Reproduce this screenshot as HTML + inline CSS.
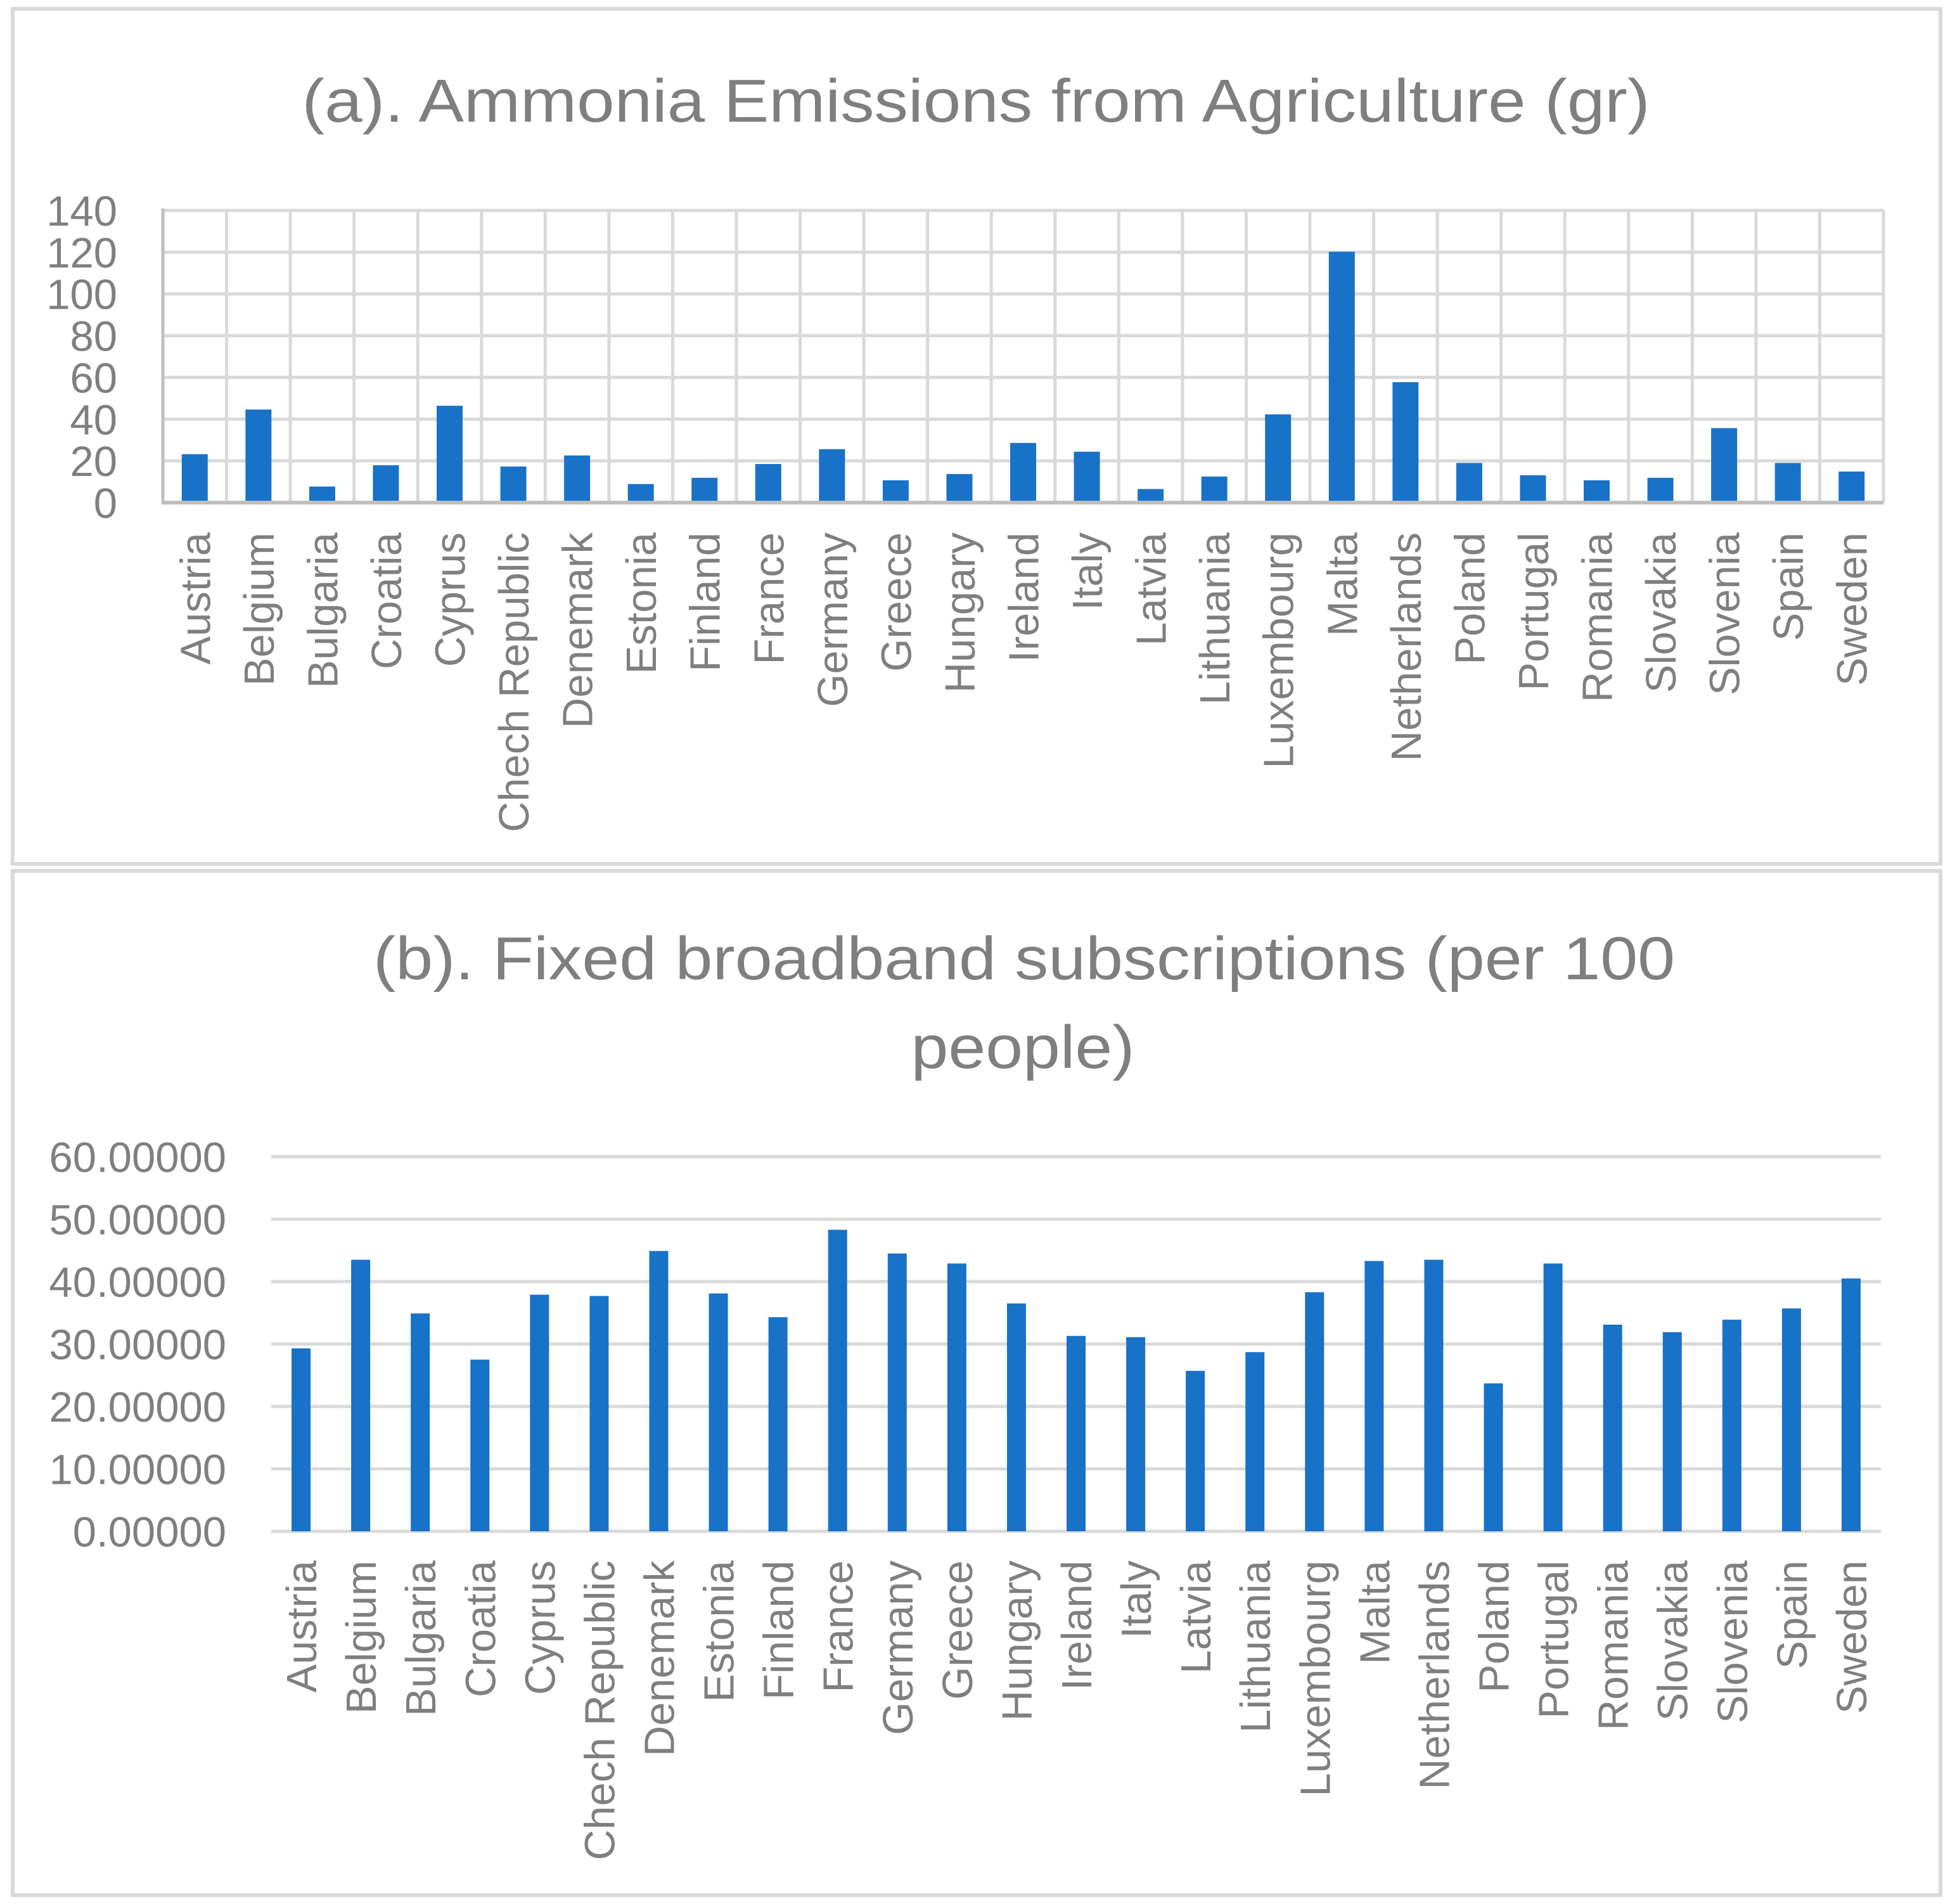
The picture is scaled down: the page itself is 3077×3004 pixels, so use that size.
<!DOCTYPE html>
<html><head><meta charset="utf-8"><style>
html,body{margin:0;padding:0;background:#fff;}
svg{display:block;font-family:"Liberation Sans",sans-serif;}
</style></head><body>
<svg id="root" width="3077" height="3004" viewBox="0 0 3077 3004" xmlns="http://www.w3.org/2000/svg">
<rect x="20" y="14" width="3042" height="1349" fill="#fff" stroke="#d9d9d9" stroke-width="6"/>
<rect x="20" y="1374" width="3042" height="1616" fill="#fff" stroke="#d9d9d9" stroke-width="6"/>
<text x="1540" y="192" text-anchor="middle" font-size="96" fill="#7f7f7f" textLength="2127" lengthAdjust="spacingAndGlyphs">(a). Ammonia Emissions from Agriculture (gr)</text>
<text x="1616" y="1545" text-anchor="middle" font-size="96" fill="#7f7f7f" textLength="2054" lengthAdjust="spacingAndGlyphs">(b). Fixed broadband subscriptions (per 100</text>
<text x="1614" y="1685" text-anchor="middle" font-size="96" fill="#7f7f7f" textLength="353" lengthAdjust="spacingAndGlyphs">people)</text>
<g id="ga"></g>
<g id="gb"></g>
</svg>
<script>
const countries = ["Austria","Belgium","Bulgaria","Croatia","Cyprus","Chech Republic","Denemark","Estonia","Finland","France","Germany","Greece","Hungary","Ireland","Italy","Latvia","Lithuania","Luxembourg","Malta","Netherlands","Poland","Portugal","Romania","Slovakia","Slovenia","Spain","Sweden"];
const ammoniaValues = [23.2,44.6,7.7,17.9,46.4,17.3,22.6,8.9,11.9,18.5,25.6,10.7,13.7,28.6,24.4,6.5,12.5,42.3,120.2,57.7,19,13.1,10.7,11.9,35.7,19,14.9];
const broadbandValues = [29.3,43.5,34.9,27.5,37.9,37.7,44.9,38.1,34.3,48.3,44.5,42.9,36.5,31.3,31.1,25.7,28.7,38.3,43.3,43.5,23.7,42.9,33.1,31.9,33.9,35.7,40.5];
const ammoniaTicks = [0,20,40,60,80,100,120,140];
const ammoniaTickLabels = ["0","20","40","60","80","100","120","140"];
const broadbandTicks = [0,10,20,30,40,50,60];
const broadbandTickLabels = ["0.00000","10.00000","20.00000","30.00000","40.00000","50.00000","60.00000"];

const NS="http://www.w3.org/2000/svg";
function mk(parent,tag,attrs,txt){const e=document.createElementNS(NS,tag);for(const k in attrs)e.setAttribute(k,attrs[k]);if(txt!==undefined)e.textContent=txt;parent.appendChild(e);return e;}

function drawChart(g, cfg){
  const n=countries.length, cw=(cfg.x1-cfg.x0)/n;
  const y=v=>cfg.yb-(v-cfg.min)/(cfg.max-cfg.min)*(cfg.yb-cfg.yt);
  const xc=i=>cfg.x0+cw*(i+0.5);
  cfg.ticks.forEach((t,i)=>{
    const gl=mk(g,'line',{x1:cfg.x0,x2:cfg.x1,y1:y(t),y2:y(t),stroke:'#d9d9d9','stroke-width':5});
    
    
    const tl=mk(g,'text',{x:cfg.labelX,y:y(t)+24,'text-anchor':'end','font-size':67,fill:'#7f7f7f'},cfg.tickLabels[i]);
    
    
  });
  if(cfg.vgrid){
    for(let i=1;i<=n;i++){
      const v=mk(g,'line',{x1:cfg.x0+cw*i,x2:cfg.x0+cw*i,y1:cfg.yt,y2:cfg.yb,stroke:'#d9d9d9','stroke-width':5});
      
      
    }
    const ax=mk(g,'line',{x1:cfg.x0,x2:cfg.x0,y1:cfg.yt-3,y2:cfg.yb+3,stroke:'#bfbfbf','stroke-width':5});
    
    
    const bx=mk(g,'line',{x1:cfg.x0,x2:cfg.x1,y1:cfg.yb,y2:cfg.yb,stroke:'#bfbfbf','stroke-width':6});
    
    
  }
  cfg.values.forEach((v,i)=>{
    const r=mk(g,'rect',{x:xc(i)-cfg.bw/2,y:y(v),width:cfg.bw,height:y(0)-y(v)-(cfg.vgrid?3:0),fill:'#1872c7'});
    
    
    const tx=xc(i)+24, ty=cfg.labelTop;
    const t=mk(g,'text',{x:tx,y:ty,'text-anchor':'end','font-size':67,fill:'#7f7f7f',transform:`rotate(-90 ${tx} ${ty})`},countries[i]);
    
    
  });
}
drawChart(document.getElementById('ga'),{x0:257,x1:2972,yt:332,yb:793,min:0,max:140,ticks:ammoniaTicks,tickLabels:ammoniaTickLabels,values:ammoniaValues,bw:41,labelX:185,labelTop:840,vgrid:true});
drawChart(document.getElementById('gb'),{x0:428,x1:2968,yt:1825,yb:2416,min:0,max:60,ticks:broadbandTicks,tickLabels:broadbandTickLabels,values:broadbandValues,bw:30,labelX:357,labelTop:2462,vgrid:false});
</script>
</body></html>
